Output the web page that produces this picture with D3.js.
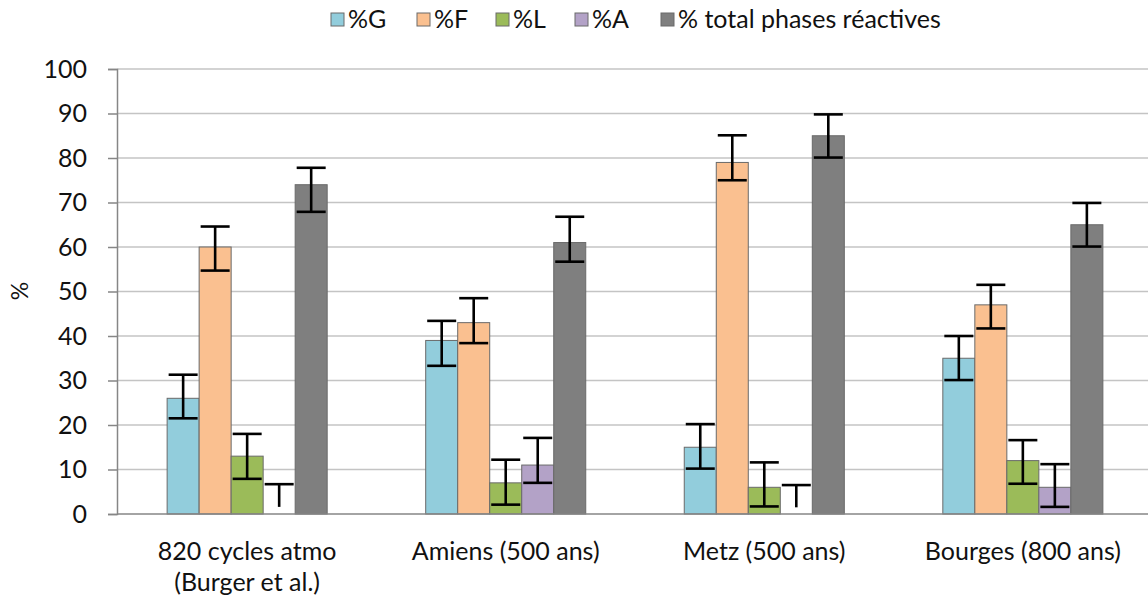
<!DOCTYPE html>
<html><head><meta charset="utf-8">
<script src="https://cdn.jsdelivr.net/npm/d3@7"></script>
<style>body{margin:0;background:#fff}svg{display:block}text{font-family:Lato,sans-serif;fill:#111}</style>
</head><body><svg id="c" width="1148" height="599"></svg>
<script>
const categories = ["820 cycles atmo|(Burger et al.)", "Amiens (500 ans)", "Metz (500 ans)", "Bourges (800 ans)"];
const seriesNames = ["%G", "%F", "%L", "%A", "% total phases réactives"];
const seriesColors = ["#92CDDC", "#FAC090", "#9BBB59", "#B3A2C7", "#7F7F7F"];
const valG = [26, 39, 15, 35];
const valF = [60, 43, 79, 47];
const valL = [13, 7, 6, 12];
const valA = [0, 11, 0, 6];
const valT = [74, 61, 85, 65];
const hiG = [31.3, 43.4, 20.2, 40.0], loG = [21.5, 33.3, 10.2, 30.1];
const hiF = [64.6, 48.5, 85.1, 51.5], loF = [54.7, 38.4, 75.0, 41.7];
const hiL = [18.0, 12.2, 11.6, 16.6], loL = [7.9, 2.1, 1.7, 6.8];
const hiA = [6.7, 17.1, 6.5, 11.2], loA = [1.6, 7.0, 1.5, 1.6];
const hiT = [77.8, 66.8, 89.8, 69.9], loT = [67.9, 56.7, 80.1, 60.1];
const yTicks = [0, 10, 20, 30, 40, 50, 60, 70, 80, 90, 100];

const values = [valG, valF, valL, valA, valT];
const his = [hiG, hiF, hiL, hiA, hiT];
const los = [loG, loF, loL, loA, loT];

const svg = d3.select("#c");
const mLeft = 117, mRight = 1148, mTop = 69, mBottom = 514;
const y = d3.scaleLinear().domain([0, 100]).range([mBottom, mTop]);
const x0 = d3.scaleBand().domain(categories).range([118, 1152]).paddingInner(0.381).paddingOuter(0.19);
const x1 = d3.scaleBand().domain(d3.range(seriesNames.length)).range([0, x0.bandwidth()]);

// gridlines
svg.append("g").selectAll("line").data(yTicks.filter(t => t > 0)).join("line")
  .attr("x1", mLeft).attr("x2", mRight).attr("y1", d => y(d)).attr("y2", d => y(d))
  .attr("stroke", "#c4c4c4").attr("stroke-width", 1.5);

// y axis
const ya = svg.append("g").attr("transform", `translate(${mLeft},0)`)
  .call(d3.axisLeft(y).tickValues(yTicks).tickSize(9).tickPadding(21));
ya.select(".domain").attr("stroke", "#868686").attr("stroke-width", 1.5);
ya.selectAll(".tick line").attr("stroke", "#868686").attr("stroke-width", 1.5);
ya.selectAll(".tick text").attr("font-size", 25).attr("font-family", "Lato").attr("fill", "#111");

// bars
const data = [];
categories.forEach((c, ci) => seriesNames.forEach((s, si) => data.push({c, ci, si, v: values[si][ci], hi: his[si][ci], lo: los[si][ci]})));
svg.append("g").selectAll("rect").data(data.filter(d => d.v > 0)).join("rect")
  .attr("x", d => x0(d.c) + x1(d.si)).attr("width", x1.bandwidth())
  .attr("y", d => y(d.v)).attr("height", d => y(0) - y(d.v))
  .attr("fill", d => seriesColors[d.si]).attr("stroke", "#6a6a6a").attr("stroke-width", 1);

// x axis line
svg.append("line").attr("x1", mLeft).attr("x2", mRight).attr("y1", y(0)).attr("y2", y(0))
  .attr("stroke", "#868686").attr("stroke-width", 1.5);

// error bars
const eg = svg.append("g").attr("stroke", "#000").attr("stroke-width", 2.6);
const capW = 29;
data.forEach(d => {
  const cx = x0(d.c) + x1(d.si) + x1.bandwidth() / 2;
  eg.append("line").attr("x1", cx).attr("x2", cx).attr("y1", y(d.hi)).attr("y2", y(d.lo));
  eg.append("line").attr("x1", cx - capW / 2).attr("x2", cx + capW / 2).attr("y1", y(d.hi)).attr("y2", y(d.hi));
  if (d.v > 0) eg.append("line").attr("x1", cx - capW / 2).attr("x2", cx + capW / 2).attr("y1", y(d.lo)).attr("y2", y(d.lo));
});

// category labels
categories.forEach(c => {
  const cx = x0(c) + x0.bandwidth() / 2;
  const t = svg.append("text").attr("text-anchor", "middle").attr("font-size", 25)
    .attr("x", cx).attr("y", 560);
  c.split("|").forEach((line, i) => t.append("tspan").attr("x", cx).attr("dy", i ? 31 : 0).text(line));
});

// y title
svg.append("text").attr("transform", "translate(28,291) rotate(-90)").attr("text-anchor", "middle")
  .attr("font-size", 23).text("%");

// legend
const legX = [331, 417, 496, 575, 661];
const lg = svg.append("g");
seriesNames.forEach((s, i) => {
  lg.append("rect").attr("x", legX[i]).attr("y", 13).attr("width", 13).attr("height", 13)
    .attr("fill", seriesColors[i]).attr("stroke", "#6a6a6a").attr("stroke-width", 1);
  lg.append("text").attr("x", legX[i] + 17).attr("y", 28).attr("font-size", 25).text(s);
});
</script></body></html>
